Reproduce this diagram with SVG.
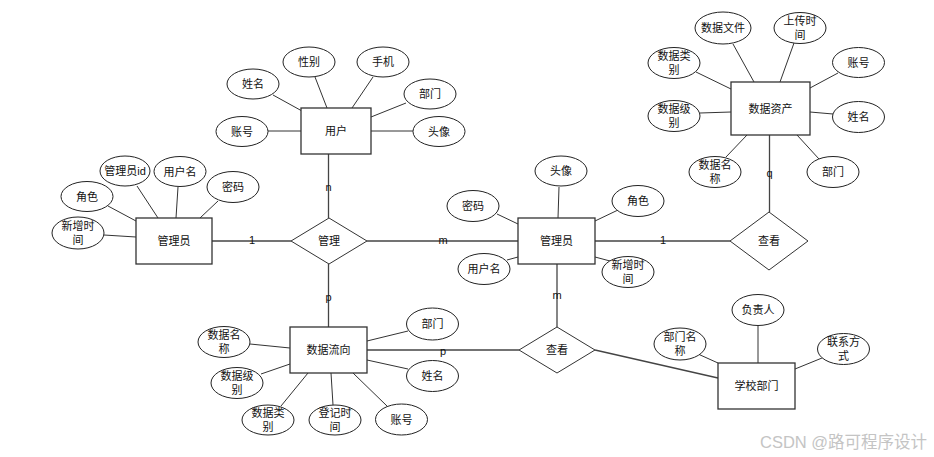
<svg xmlns="http://www.w3.org/2000/svg" width="934" height="457" viewBox="0 0 934 457">
<style>
text{font-family:"Liberation Sans","Noto Sans CJK SC",sans-serif;font-size:11px;fill:#111;text-anchor:middle;dominant-baseline:central}
.ent rect{fill:#fff;stroke:#333;stroke-width:1.3}
.rel polygon{fill:#fff;stroke:#333;stroke-width:1}
.attr ellipse{fill:#fff;stroke:#222;stroke-width:1}
.al{stroke:#333;stroke-width:1;fill:none}
.cl{stroke:#444;stroke-width:1.3;fill:none}
.card{font-size:11px}
.wm{font-size:16.5px;fill:#c4c4c4;text-anchor:start}
</style>
<rect width="934" height="457" fill="#fff"/>

<g id="connectors">
<!-- relationship lines -->
<line class="cl" x1="328.5" y1="154" x2="328.5" y2="218"/>
<line class="cl" x1="212" y1="241" x2="291" y2="241"/>
<line class="cl" x1="367" y1="241" x2="518" y2="241"/>
<line class="cl" x1="328.5" y1="264" x2="328.5" y2="327"/>
<line class="cl" x1="595" y1="241" x2="730" y2="241"/>
<line class="cl" x1="769.5" y1="135" x2="769.5" y2="212"/>
<line class="cl" x1="557" y1="264" x2="557" y2="327"/>
<line class="cl" x1="367" y1="350" x2="519" y2="350"/>
<line class="cl" x1="595" y1="350" x2="718" y2="378"/>
<!-- attribute lines: 用户 -->
<line class="al" x1="273" y1="95" x2="302" y2="111"/>
<line class="al" x1="315" y1="77" x2="327" y2="108"/>
<line class="al" x1="373" y1="77" x2="352" y2="108"/>
<line class="al" x1="406" y1="103" x2="371" y2="117"/>
<line class="al" x1="371" y1="131" x2="413" y2="131"/>
<line class="al" x1="268" y1="131" x2="301" y2="131"/>
<!-- 管理员 left -->
<line class="al" x1="108" y1="206" x2="136" y2="221"/>
<line class="al" x1="137" y1="186" x2="158" y2="218"/>
<line class="al" x1="178" y1="187" x2="176" y2="218"/>
<line class="al" x1="218" y1="201" x2="200" y2="218"/>
<line class="al" x1="104" y1="235" x2="136" y2="237"/>
<!-- 管理员 right -->
<line class="al" x1="559" y1="187" x2="558" y2="218"/>
<line class="al" x1="497" y1="214" x2="518" y2="224"/>
<line class="al" x1="618" y1="210" x2="595" y2="221"/>
<line class="al" x1="507" y1="260" x2="518" y2="257"/>
<line class="al" x1="595" y1="257" x2="610" y2="261"/>
<!-- 数据资产 -->
<line class="al" x1="733" y1="44" x2="754" y2="82"/>
<line class="al" x1="794" y1="43" x2="780" y2="82"/>
<line class="al" x1="696" y1="72" x2="731" y2="89"/>
<line class="al" x1="838" y1="73" x2="810" y2="88"/>
<line class="al" x1="700" y1="113" x2="731" y2="112"/>
<line class="al" x1="810" y1="112" x2="833" y2="114"/>
<line class="al" x1="726" y1="157" x2="747" y2="135"/>
<line class="al" x1="819" y1="159" x2="797" y2="135"/>
<!-- 数据流向 -->
<line class="al" x1="408" y1="331" x2="367" y2="341"/>
<line class="al" x1="250" y1="344" x2="290" y2="348"/>
<line class="al" x1="261" y1="374" x2="290" y2="364"/>
<line class="al" x1="408" y1="369" x2="367" y2="360"/>
<line class="al" x1="281" y1="406" x2="308" y2="373"/>
<line class="al" x1="333" y1="405" x2="331" y2="373"/>
<line class="al" x1="387" y1="406" x2="353" y2="373"/>
<!-- 学校部门 -->
<line class="al" x1="758" y1="326" x2="758" y2="363"/>
<line class="al" x1="698" y1="354" x2="718" y2="363"/>
<line class="al" x1="822" y1="358" x2="795" y2="369"/>
<!-- cardinalities -->
<text class="card" x="328.5" y="187">n</text>
<text class="card" x="252" y="240">1</text>
<text class="card" x="443" y="240">m</text>
<text class="card" x="328.5" y="297">p</text>
<text class="card" x="663" y="240">1</text>
<text class="card" x="769.5" y="173">q</text>
<text class="card" x="557" y="295">m</text>
<text class="card" x="443" y="351">p</text>
</g>

<!-- entities -->
<g id="e-user" class="ent"><rect x="301" y="108" width="70" height="46"/><text x="336" y="131">用户</text></g>
<g id="e-admin1" class="ent"><rect x="136" y="218" width="76" height="46"/><text x="174" y="241">管理员</text></g>
<g id="e-admin2" class="ent"><rect x="518" y="218" width="77" height="46"/><text x="556.5" y="241">管理员</text></g>
<g id="e-asset" class="ent"><rect x="731" y="82" width="79" height="53"/><text x="770.5" y="108.5">数据资产</text></g>
<g id="e-flow" class="ent"><rect x="290" y="327" width="77" height="46"/><text x="328.5" y="350">数据流向</text></g>
<g id="e-dept" class="ent"><rect x="718" y="363" width="77" height="46"/><text x="756.5" y="386">学校部门</text></g>

<!-- relationships -->
<g id="r-manage" class="rel"><polygon points="291,241 329,218 367,241 329,264"/><text x="329" y="241">管理</text></g>
<g id="r-view1" class="rel"><polygon points="730,241 769,212 808,241 769,270"/><text x="769" y="241">查看</text></g>
<g id="r-view2" class="rel"><polygon points="519,350 557,327 595,350 557,373"/><text x="557" y="350">查看</text></g>

<!-- attributes: 用户 -->
<g id="a-user-name" class="attr"><ellipse cx="253" cy="84" rx="26" ry="15"/><text x="253" y="84">姓名</text></g>
<g id="a-user-gender" class="attr"><ellipse cx="309" cy="62" rx="26" ry="15"/><text x="309" y="62">性别</text></g>
<g id="a-user-phone" class="attr"><ellipse cx="383" cy="62" rx="26" ry="15"/><text x="383" y="62">手机</text></g>
<g id="a-user-dept" class="attr"><ellipse cx="430" cy="94" rx="26" ry="15"/><text x="430" y="94">部门</text></g>
<g id="a-user-avatar" class="attr"><ellipse cx="439" cy="131.5" rx="26" ry="15"/><text x="439" y="131.5">头像</text></g>
<g id="a-user-account" class="attr"><ellipse cx="242" cy="131.5" rx="26" ry="15"/><text x="242" y="131.5">账号</text></g>

<!-- attributes: 管理员 left -->
<g id="a-adm1-role" class="attr"><ellipse cx="87" cy="196.5" rx="26" ry="15"/><text x="87" y="196.5">角色</text></g>
<g id="a-adm1-id" class="attr"><ellipse cx="125" cy="171" rx="25" ry="15"/><text x="125" y="171">管理员id</text></g>
<g id="a-adm1-user" class="attr"><ellipse cx="180" cy="171.5" rx="26" ry="15"/><text x="180" y="171.5">用户名</text></g>
<g id="a-adm1-pwd" class="attr"><ellipse cx="233" cy="187" rx="26" ry="15.5"/><text x="233" y="187">密码</text></g>
<g id="a-adm1-time" class="attr"><ellipse cx="78" cy="233" rx="26" ry="16"/><text x="78" y="226">新增时</text><text x="78" y="240">间</text></g>

<!-- attributes: 管理员 right -->
<g id="a-adm2-avatar" class="attr"><ellipse cx="561" cy="171" rx="26" ry="15"/><text x="561" y="171">头像</text></g>
<g id="a-adm2-pwd" class="attr"><ellipse cx="473" cy="206" rx="26" ry="15.5"/><text x="473" y="206">密码</text></g>
<g id="a-adm2-role" class="attr"><ellipse cx="638" cy="201" rx="26" ry="15.5"/><text x="638" y="201">角色</text></g>
<g id="a-adm2-user" class="attr"><ellipse cx="484" cy="269" rx="26" ry="15.5"/><text x="484" y="269">用户名</text></g>
<g id="a-adm2-time" class="attr"><ellipse cx="628" cy="272" rx="26" ry="15.5"/><text x="628" y="265">新增时</text><text x="628" y="279">间</text></g>

<!-- attributes: 数据资产 -->
<g id="a-asset-file" class="attr"><ellipse cx="723" cy="28" rx="28" ry="16"/><text x="723" y="28">数据文件</text></g>
<g id="a-asset-time" class="attr"><ellipse cx="800" cy="28" rx="26" ry="15.5"/><text x="800" y="21">上传时</text><text x="800" y="35">间</text></g>
<g id="a-asset-cat" class="attr"><ellipse cx="674" cy="63" rx="26" ry="15.5"/><text x="674" y="56">数据类</text><text x="674" y="70">别</text></g>
<g id="a-asset-account" class="attr"><ellipse cx="858.5" cy="62.5" rx="26" ry="15"/><text x="858.5" y="62.5">账号</text></g>
<g id="a-asset-level" class="attr"><ellipse cx="674" cy="116" rx="26" ry="15.5"/><text x="674" y="109">数据级</text><text x="674" y="123">别</text></g>
<g id="a-asset-name2" class="attr"><ellipse cx="858.5" cy="117" rx="26" ry="15.5"/><text x="858.5" y="117">姓名</text></g>
<g id="a-asset-name" class="attr"><ellipse cx="715" cy="172" rx="26" ry="15.5"/><text x="715" y="165">数据名</text><text x="715" y="179">称</text></g>
<g id="a-asset-dept" class="attr"><ellipse cx="833" cy="172" rx="26" ry="15.5"/><text x="833" y="172">部门</text></g>

<!-- attributes: 数据流向 -->
<g id="a-flow-dept" class="attr"><ellipse cx="432.5" cy="324" rx="26" ry="16"/><text x="432.5" y="324">部门</text></g>
<g id="a-flow-name" class="attr"><ellipse cx="224" cy="342" rx="26" ry="15.5"/><text x="224" y="335">数据名</text><text x="224" y="349">称</text></g>
<g id="a-flow-level" class="attr"><ellipse cx="237" cy="383" rx="26" ry="15.5"/><text x="237" y="376">数据级</text><text x="237" y="390">别</text></g>
<g id="a-flow-pname" class="attr"><ellipse cx="432.5" cy="376" rx="26" ry="15.5"/><text x="432.5" y="376">姓名</text></g>
<g id="a-flow-cat" class="attr"><ellipse cx="268" cy="420" rx="26" ry="15"/><text x="268" y="413">数据类</text><text x="268" y="427">别</text></g>
<g id="a-flow-time" class="attr"><ellipse cx="335" cy="420" rx="26" ry="15"/><text x="335" y="413">登记时</text><text x="335" y="427">间</text></g>
<g id="a-flow-account" class="attr"><ellipse cx="401.5" cy="419.5" rx="26" ry="15.5"/><text x="401.5" y="419.5">账号</text></g>

<!-- attributes: 学校部门 -->
<g id="a-dept-head" class="attr"><ellipse cx="758" cy="310" rx="26" ry="15.5"/><text x="758" y="310">负责人</text></g>
<g id="a-dept-name" class="attr"><ellipse cx="680" cy="344" rx="26" ry="16"/><text x="680" y="337">部门名</text><text x="680" y="351">称</text></g>
<g id="a-dept-contact" class="attr"><ellipse cx="843.5" cy="349" rx="26" ry="15.5"/><text x="843.5" y="342">联系方</text><text x="843.5" y="356">式</text></g>

<text class="wm" x="760" y="442">CSDN @路可程序设计</text>
</svg>
